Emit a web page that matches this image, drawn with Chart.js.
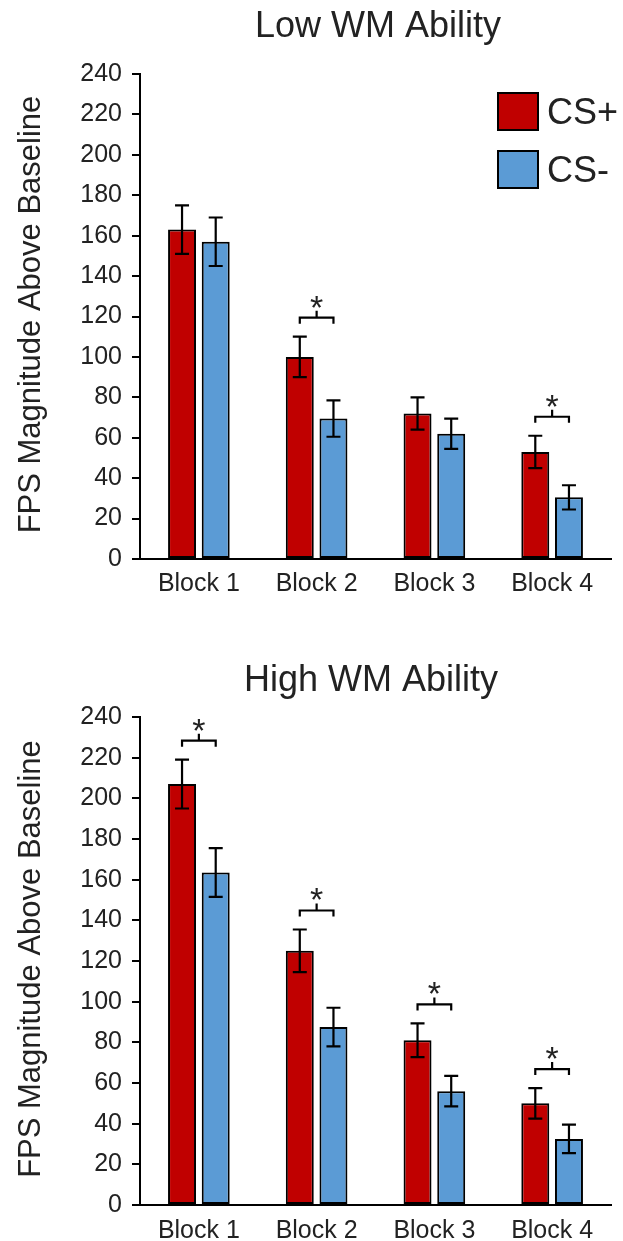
<!DOCTYPE html>
<html>
<head>
<meta charset="utf-8">
<script src="https://cdn.jsdelivr.net/npm/chart.js@4.4.1/dist/chart.umd.min.js"></script>
<style>
  html, body { margin: 0; padding: 0; background: #fff; }
  .panel { position: absolute; left: 0; width: 623px; }
</style>
</head>
<body>
<div class="panel" style="top:0;height:620px"><canvas id="lowChart"></canvas></div>
<div class="panel" style="top:620px;height:621px"><canvas id="highChart"></canvas></div>
<script>
// ---- data ----
const blocks = ['Block 1', 'Block 2', 'Block 3', 'Block 4'];
const yTickStep = 20;
const yMax = 240;

const lowCSPlus      = [163, 100, 72, 53];
const lowCSPlusErr   = [12, 10, 8, 8];
const lowCSMinus     = [157, 69.5, 62, 30.5];
const lowCSMinusErr  = [12, 9, 7.5, 6];
const lowSig         = [false, true, false, true];

const highCSPlus     = [207, 125, 81, 50];
const highCSPlusErr  = [12, 10.5, 8.3, 7.5];
const highCSMinus    = [163.5, 87.5, 56, 32.5];
const highCSMinusErr = [12, 9.5, 7.5, 7];
const highSig        = [true, true, true, true];

const RED  = '#c00000';
const BLUE = '#5b9bd5';
const INK  = '#222';
const FONT = "'Liberation Sans', Arial, Helvetica, sans-serif";

// error bars + significance brackets, positioned through the scales
const errorBars = {
  id: 'errorBars',
  afterDatasetsDraw(chart, args, opts) {
    const { ctx, scales: { y } } = chart;
    const metas = chart.data.datasets.map((_, i) => chart.getDatasetMeta(i));
    ctx.save();
    ctx.strokeStyle = '#000';
    ctx.lineWidth = 2.2;
    chart.data.datasets.forEach((ds, i) => {
      metas[i].data.forEach((bar, j) => {
        const v = ds.data[j], e = ds.errors[j];
        const yt = y.getPixelForValue(v + e), yb = y.getPixelForValue(v - e);
        ctx.beginPath();
        ctx.moveTo(bar.x, yt); ctx.lineTo(bar.x, yb);
        ctx.moveTo(bar.x - 7, yt); ctx.lineTo(bar.x + 7, yt);
        ctx.moveTo(bar.x - 7, yb); ctx.lineTo(bar.x + 7, yb);
        ctx.stroke();
      });
    });
    opts.sig.forEach((s, j) => {
      if (!s) return;
      const b0 = metas[0].data[j], b1 = metas[1].data[j];
      const d0 = chart.data.datasets[0], d1 = chart.data.datasets[1];
      const top = Math.min(
        y.getPixelForValue(d0.data[j] + d0.errors[j]),
        y.getPixelForValue(d1.data[j] + d1.errors[j])) - 19;
      const xm = (b0.x + b1.x) / 2;
      ctx.beginPath();
      ctx.moveTo(b0.x, top + 6); ctx.lineTo(b0.x, top);
      ctx.lineTo(b1.x, top); ctx.lineTo(b1.x, top + 6);
      ctx.moveTo(xm, top); ctx.lineTo(xm, top - 7);
      ctx.stroke();
      ctx.fillStyle = INK;
      ctx.font = `34px ${FONT}`;
      ctx.textAlign = 'center';
      ctx.textBaseline = 'alphabetic';
      ctx.fillText('*', xm, top + 1);
    });
    ctx.restore();
  },
};

// panel title, y-axis title and (optionally) legend
const decorations = {
  id: 'decorations',
  afterDraw(chart, args, opts) {
    const { ctx, chartArea } = chart;
    ctx.save();
    ctx.fillStyle = INK;
    ctx.textAlign = 'center';
    ctx.textBaseline = 'alphabetic';
    ctx.font = `36px ${FONT}`;
    ctx.fillText(opts.title, opts.titleX, opts.titleY);

    ctx.save();
    ctx.translate(40, (chartArea.top + chartArea.bottom) / 2 - 2);
    ctx.rotate(-Math.PI / 2);
    ctx.font = `31px ${FONT}`;
    ctx.fillText('FPS Magnitude Above Baseline', 0, 0);
    ctx.restore();

    if (opts.legend) {
      chart.data.datasets.forEach((ds, i) => {
        const top = 92 + i * 58;
        ctx.fillStyle = '#000';
        ctx.fillRect(497, top, 42, 39);
        ctx.fillStyle = ds.backgroundColor;
        ctx.fillRect(499, top + 2, 38, 35);
        ctx.fillStyle = INK;
        ctx.textAlign = 'left';
        ctx.font = `36px ${FONT}`;
        ctx.fillText(ds.label, 547, top + 32);
      });
    }
    ctx.restore();
  },
};

function makeChart(id, cfg) {
  const ctx = document.getElementById(id).getContext('2d');
  return new Chart(ctx, {
    type: 'bar',
    data: {
      labels: blocks,
      datasets: [
        { label: 'CS+', data: cfg.plus, errors: cfg.plusErr,
          backgroundColor: RED, borderColor: '#000', borderWidth: 2, borderSkipped: false,
          categoryPercentage: 0.572, barPercentage: 0.83 },
        { label: 'CS-', data: cfg.minus, errors: cfg.minusErr,
          backgroundColor: BLUE, borderColor: '#000', borderWidth: 2, borderSkipped: false,
          categoryPercentage: 0.572, barPercentage: 0.83 },
      ],
    },
    options: {
      responsive: true, maintainAspectRatio: false, animation: false,
      layout: { padding: { left: 0, top: cfg.top, right: 12, bottom: 0 } },
      plugins: {
        legend: { display: false },
        tooltip: { enabled: false },
        errorBars: { sig: cfg.sig },
        decorations: { title: cfg.title, titleX: cfg.titleX, titleY: cfg.titleY, legend: cfg.legend },
      },
      scales: {
        x: {
          grid: { display: false },
          border: { display: true, color: '#000', width: 2 },
          ticks: { color: INK, font: { family: FONT, size: 25 }, padding: cfg.xPad },
          afterFit: s => { s.height = cfg.xAxisH; },
        },
        y: {
          min: 0, max: yMax,
          grid: { display: true, drawOnChartArea: false, drawTicks: true, tickLength: 8, color: '#000', lineWidth: 2 },
          border: { display: true, color: '#000', width: 2 },
          ticks: { stepSize: yTickStep, color: INK, font: { family: FONT, size: 25 }, padding: 10 },
          afterFit: s => { s.width = 140; },
        },
      },
    },
    plugins: [errorBars, decorations],
  });
}

makeChart('lowChart', {
  plus: lowCSPlus, plusErr: lowCSPlusErr, minus: lowCSMinus, minusErr: lowCSMinusErr, sig: lowSig,
  title: 'Low WM Ability', titleX: 378, titleY: 37, legend: true, top: 74, xAxisH: 61, xPad: 2,
});
makeChart('highChart', {
  plus: highCSPlus, plusErr: highCSPlusErr, minus: highCSMinus, minusErr: highCSMinusErr, sig: highSig,
  title: 'High WM Ability', titleX: 371, titleY: 71, legend: false, top: 97, xAxisH: 36, xPad: 3,
});
</script>
</body>
</html>
